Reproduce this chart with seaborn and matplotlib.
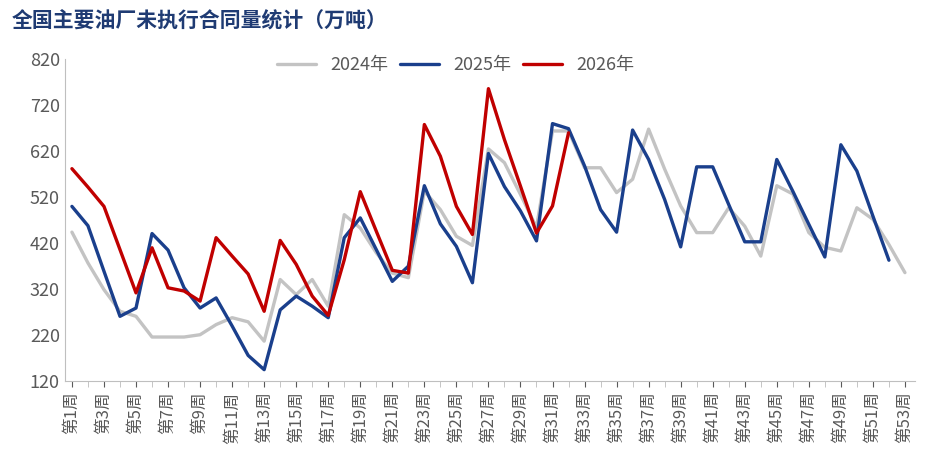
import pandas as pd
import matplotlib.pyplot as plt
import seaborn as sns

y2024 = [444, 377, 319, 272, 261, 216, 216, 216, 221, 243, 258, 249, 207, 341, 308, 341, 283,
         482, 453, 399, 355, 345, 533, 493, 435, 415, 625, 595, 526, 454, 664, 664, 584, 584,
         530, 559, 668, 581, 501, 443, 443, 497, 457, 392, 545, 527, 443, 411, 403, 497, 472,
         417, 356]
y2025 = [500, 458, 359, 261, 279, 441, 405, 323, 279, 301, 240, 176, 145, 275, 305, 283, 258,
         432, 475, 406, 337, 370, 545, 462, 413, 334, 615, 543, 490, 425, 680, 669, 588, 493,
         444, 666, 602, 515, 412, 586, 586, 504, 423, 423, 602, 533, 461, 390, 634, 577, 479,
         383]
y2026 = [582, 542, 500, 406, 312, 410, 323, 316, 294, 432, 392, 353, 272, 426, 374, 305, 263,
         384, 532, 446, 361, 355, 678, 609, 500, 439, 756, 645, 544, 442, 501, 660]

rows = []
for year, vals in [("2024年", y2024), ("2025年", y2025), ("2026年", y2026)]:
    for i, v in enumerate(vals):
        rows.append({"week": i + 1, "value": v, "year": year})
df = pd.DataFrame(rows)

sns.set_style("white")
plt.rcParams['font.family'] = ['Noto Sans CJK SC', 'DejaVu Sans']

fig = plt.figure(figsize=(9.38, 4.70), dpi=100)
ax = fig.add_axes([0.069, 0.189, 0.906, 0.685])
sns.lineplot(data=df, x="week", y="value", hue="year", ax=ax, linewidth=2.4,
             palette={"2024年": "#c3c3c3", "2025年": "#1a3f8c", "2026年": "#c00000"})

ax.set_xlim(0.55, 53.6)
ax.set_ylim(120, 820)
ax.set_yticks(range(120, 821, 100))
ax.set_xticks(range(1, 54, 2))
ax.set_xticklabels([f"第{w}周" for w in range(1, 54, 2)], rotation=90)
ax.set_xticks(range(1, 54), minor=True)
ax.tick_params(axis="x", which="both", length=4, color="#bbbbbb", direction="out", bottom=True)
ax.tick_params(axis="y", length=0, labelsize=13, colors="#595959")
ax.tick_params(axis="x", labelsize=12, colors="#595959")
ax.set_xlabel("")
ax.set_ylabel("")
for s in ["top", "right"]:
    ax.spines[s].set_visible(False)
ax.spines["left"].set_color("#bfbfbf")
ax.spines["bottom"].set_color("#bfbfbf")

ax.legend(loc="upper center", bbox_to_anchor=(0.46, 1.06), ncol=3, frameon=False,
          fontsize=13, handlelength=2.2, columnspacing=0.6, labelcolor="#595959")

fig.text(0.012, 0.955, "全国主要油厂未执行合同量统计（万吨）", fontsize=15, fontweight="bold",
         color="#1f3b73", ha="left", va="center")

fig.savefig("out.png", dpi=100)
